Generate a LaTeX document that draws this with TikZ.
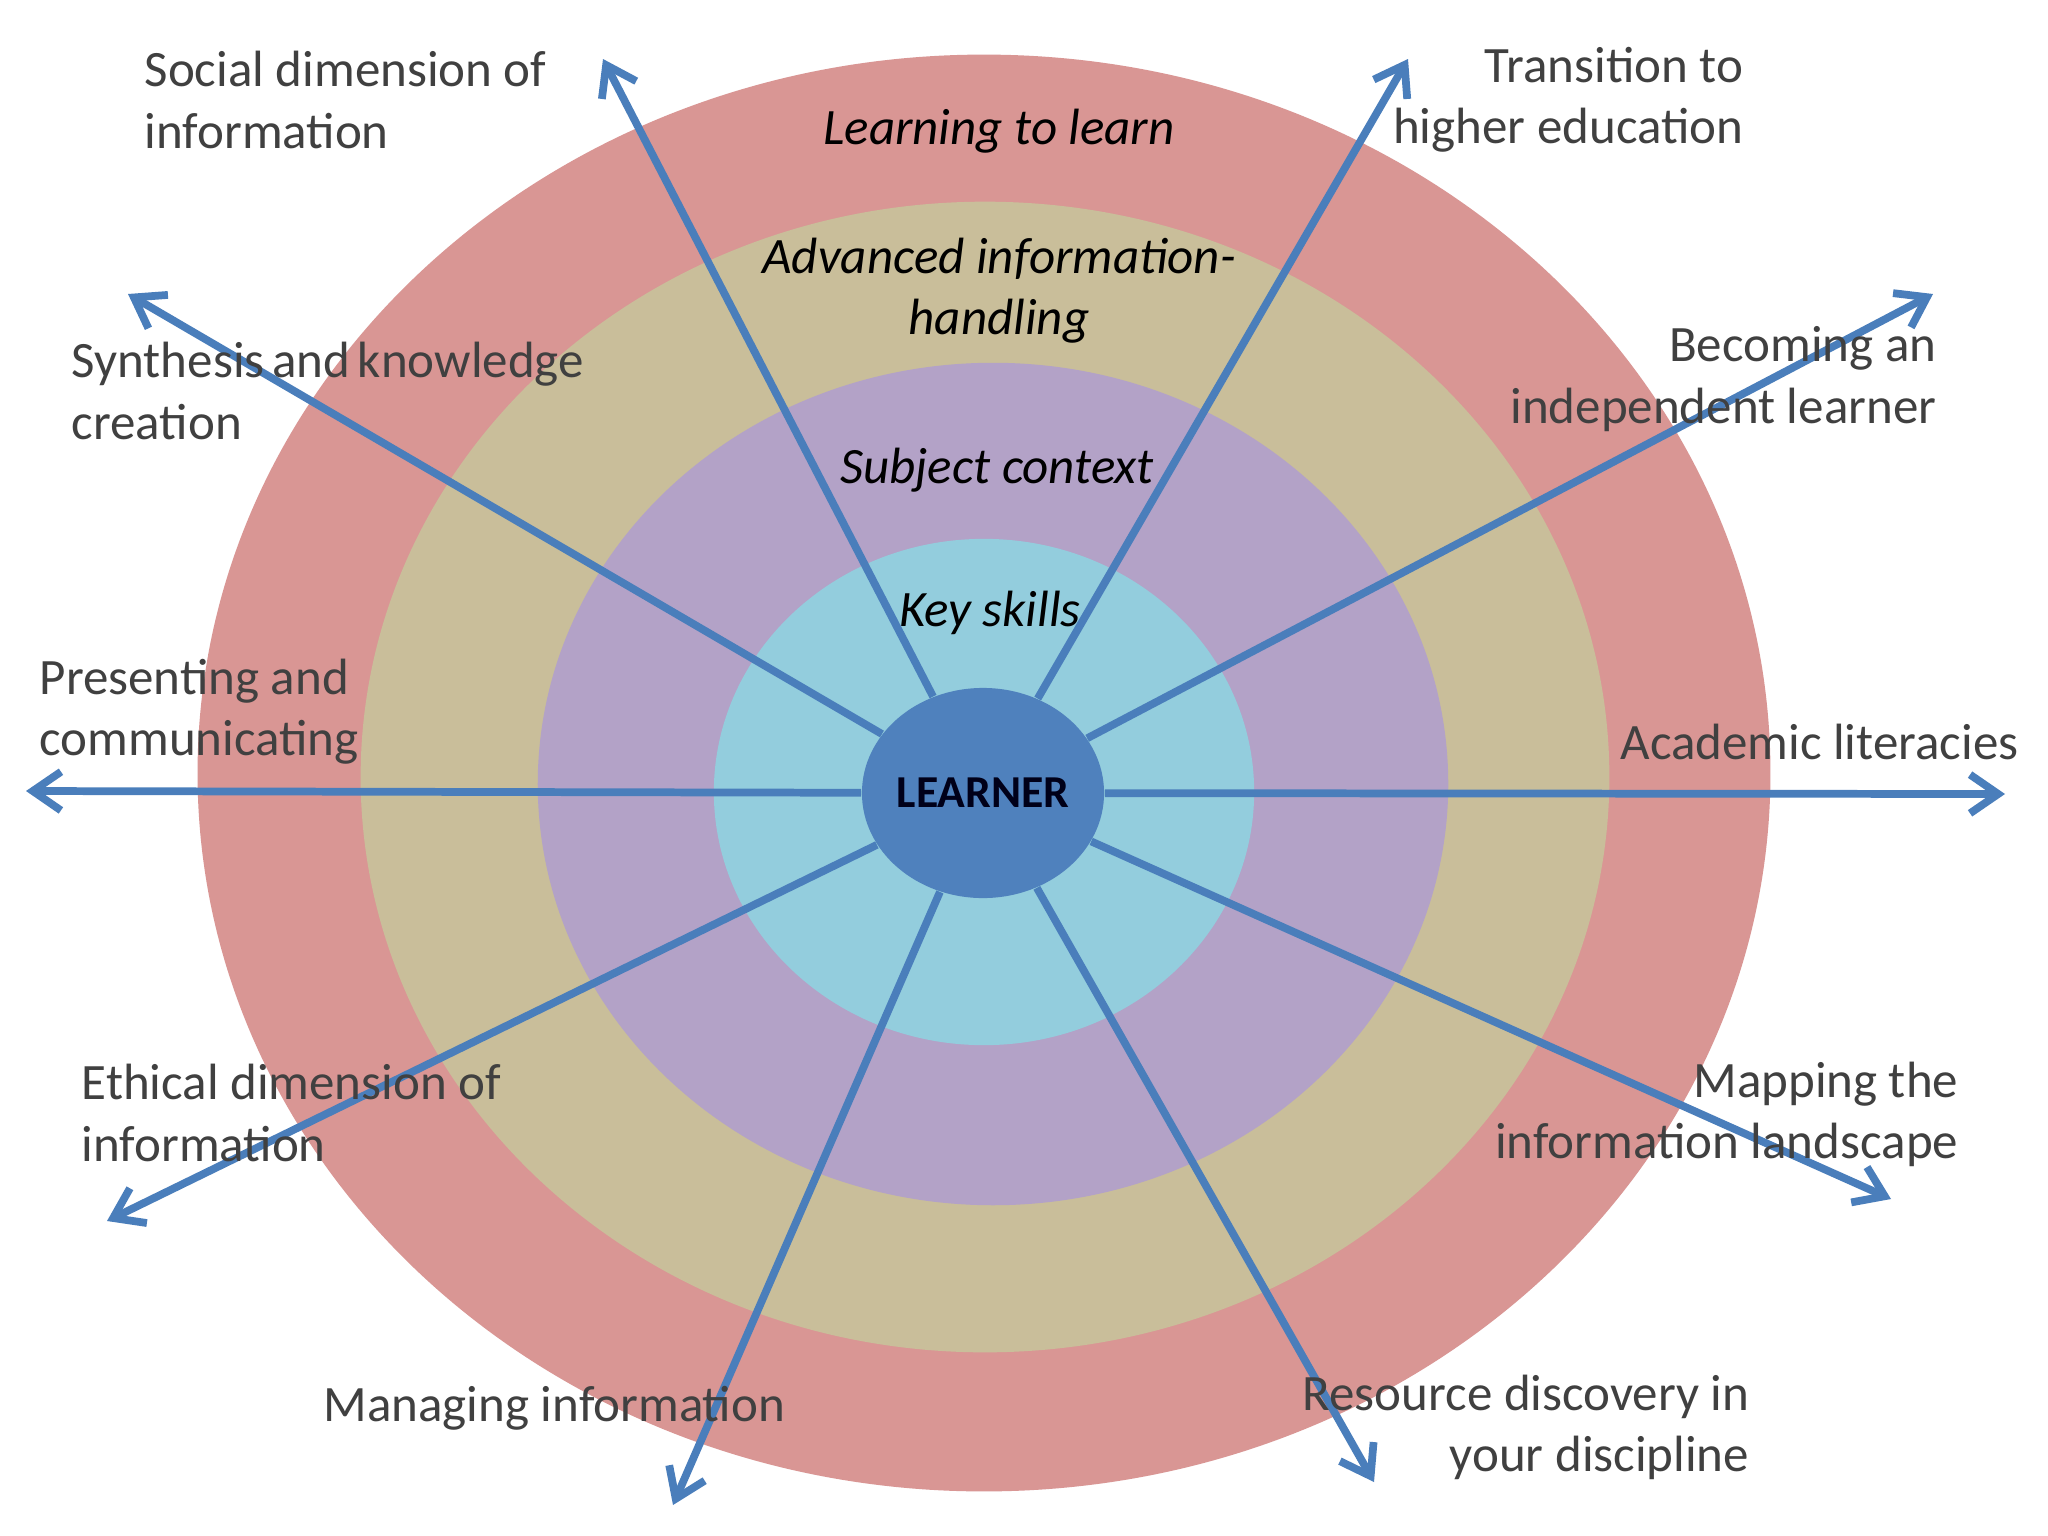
\documentclass[tikz,border=0pt]{standalone}
\usepackage{fontspec}
\setmainfont{Carlito}
\usetikzlibrary{shapes.geometric,arrows.meta}
\definecolor{ringred}{HTML}{D99694}
\definecolor{ringtan}{HTML}{C9BE9A}
\definecolor{ringpurple}{HTML}{B3A2C7}
\definecolor{ringblue}{HTML}{93CDDD}
\definecolor{learnerblue}{HTML}{4F81BD}
\definecolor{arrowblue}{HTML}{4A7EBB}
\definecolor{labelgray}{HTML}{404040}
\begin{document}
\begin{tikzpicture}[x=0.01cm,y=-0.01cm,
  spoke/.style={draw=arrowblue,line width=2.2pt,-{Straight Barb[length=8pt,width=11pt]}},
  outlabel/.style={text=labelgray,inner sep=0pt,font=\fontsize{14.5}{17.4}\selectfont},
  ringlabel/.style={text=black,inner sep=0pt,font=\fontsize{14.5}{17.4}\selectfont\itshape,align=center}]
\useasboundingbox[fill=white] (0,0) rectangle (2048,1536);
% rings
\fill[ringred] (984,773) ellipse [x radius=7.86cm,y radius=7.18cm];
\fill[ringtan] (985,777) ellipse [x radius=6.24cm,y radius=5.75cm];
\fill[ringpurple] (993,784) ellipse [x radius=4.55cm,y radius=4.21cm];
\fill[ringblue] (984,792) ellipse [x radius=2.70cm,y radius=2.53cm];
\node[ellipse,fill=learnerblue,minimum width=2.42cm,minimum height=2.10cm,inner sep=0pt] (learner) at (983,793) {};
% arrow tips
\coordinate (t1) at (603,59);
\coordinate (t2) at (1408,59);
\coordinate (t3) at (128,294);
\coordinate (t4) at (1933,294);
\coordinate (t5) at (26,791);
\coordinate (t6) at (2005,794);
\coordinate (t7) at (107,1221);
\coordinate (t8) at (1891,1199);
\coordinate (t9) at (673,1505);
\coordinate (t10) at (1374,1482);
\foreach \t in {t1,t2,t3,t4,t5,t6,t7,t8,t9,t10} {\draw[spoke] (learner) -- (\t);}
% ring labels
\node[ringlabel] (l1) at (999,131) {Learning to learn};
\node[ringlabel] (l2) at (999,291) {Advanced information-\\handling};
\node[ringlabel] (l3) at (997,470) {Subject context};
\node[ringlabel] (l4) at (990,613) {Key skills};
\node[text=black!90!blue,inner sep=0pt,font=\fontsize{13}{15}\selectfont\bfseries] (lt) at (learner.center) {LEARNER};
% outer labels
\node[outlabel,anchor=west,align=left] (o1) at (144,100) {Social dimension of\\information};
\node[outlabel,anchor=east,align=right] (o2) at (1744,100) {Transition to\\higher education};
\node[outlabel,anchor=west,align=left] (o3) at (71,391) {\spaceskip=0.15em Synthesis and knowledge\\creation};
\node[outlabel,anchor=east,align=right] (o4) at (1937,379) {Becoming an\\independent learner};
\node[outlabel,anchor=west,align=left] (o5) at (39,712) {Presenting and\\communicating};
\node[outlabel,anchor=east,align=right] (o6) at (2019,742) {Academic literacies};
\node[outlabel,anchor=west,align=left] (o7) at (81,1113) {Ethical dimension of\\information};
\node[outlabel,anchor=east,align=right] (o8) at (1959,1114) {Mapping the\\information landscape};
\node[outlabel,anchor=west,align=left] (o9) at (323,1408) {Managing information};
\node[outlabel,anchor=east,align=right] (o10) at (1750,1427) {Resource discovery in\\your discipline};
\end{tikzpicture}
\end{document}
